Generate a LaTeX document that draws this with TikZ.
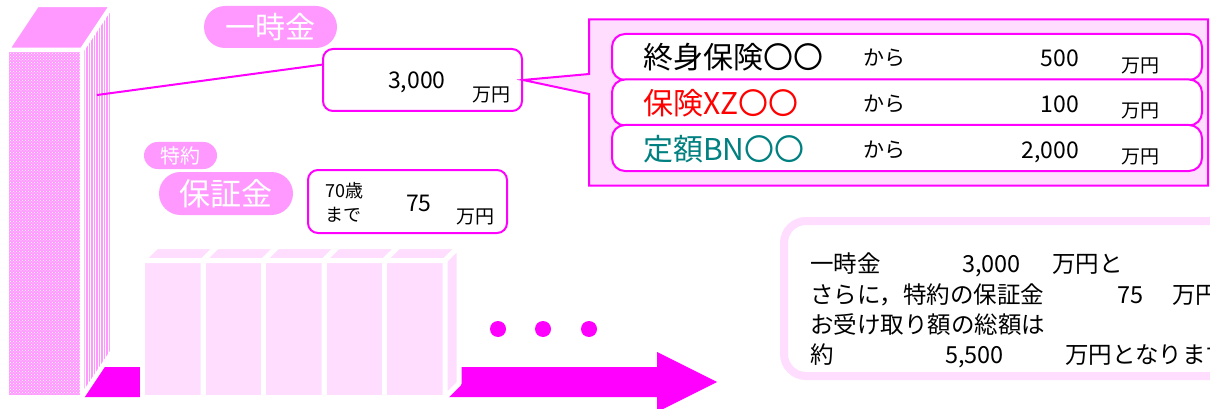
\documentclass[tikz,border=0pt]{standalone}
\usepackage{fontspec}
\setmainfont{Noto Sans CJK JP}
\usetikzlibrary{shapes.callouts,calc,patterns}
\definecolor{mag}{RGB}{255,0,255}
\definecolor{pinkA}{RGB}{255,153,255}
\definecolor{pinkL}{RGB}{255,221,255}
\definecolor{tealB}{RGB}{0,128,128}
\newcommand{\fsz}[1]{\fontsize{#1}{#1}\selectfont}
\begin{document}
\begin{tikzpicture}[x=1pt,y=-1pt,
  blockst/.style={fill=pinkL, draw=white, line width=5pt, line join=round},
  colface/.style={draw=white, line width=4.5pt, line join=round},
  pill/.style={fill=pinkA, text=white, inner sep=0pt},
  magbox/.style={draw=mag, line width=2pt, fill=white, rounded corners=10pt, inner sep=0pt},
  rowbox/.style={draw=mag, line width=2pt, fill=white, rounded corners=13pt, inner sep=0pt, minimum width=590pt, minimum height=46pt},
  txtst/.style={inner sep=0pt, text=black},
  nmst/.style={txtst, anchor=west, font=\fsz{30}},
  karast/.style={txtst, anchor=west, font=\fsz{21}},
  numst/.style={txtst, anchor=base east, font=\fsz{23}},
  yenst/.style={txtst, anchor=west, font=\fsz{19}},
  sumst/.style={txtst, anchor=base west, font=\fsz{23.5}}]
\useasboundingbox (0,0) rectangle (1210,409);
\clip (0,0) rectangle (1210,409);
\fill[white] (0,0) rectangle (1210,409);

% arrow band
\fill[mag] (80,367) -- (657,367) -- (657,352) -- (717,382) -- (657,412) -- (657,397) -- (80,397) -- cycle;

% small blocks
\foreach \i in {0,...,4}{
  \pgfmathsetmacro\L{142.5+60.5*\i}
  \pgfmathsetmacro\R{\L+60.5}
  \path[blockst] (\L,260.5) rectangle (\R,397.5);
  \path[blockst] (\L,260.5) -- (\L+14,246.5) -- (\R+14,246.5) -- (\R,260.5) -- cycle;
  \path[blockst] (\R,260.5) -- (\R+14,246.5) -- (\R+14,383.5) -- (\R,397.5) -- cycle;
}

% tall column
\fill[pinkA] (7,50) rectangle (82,397);
\fill[pattern=crosshatch dots, pattern color=white] (7,50) rectangle (82,397);
\path[colface] (7,50) rectangle (82,397);
\path[colface, fill=pinkA] (7,50) -- (37,5) -- (112,5) -- (82,50) -- cycle;
\fill[pinkA] (82,50) -- (112,5) -- (112,352) -- (82,397) -- cycle;
\begin{scope}
  \clip (82,50) -- (112,5) -- (112,352) -- (82,397) -- cycle;
  \foreach \x in {83,85.5,...,113}{\draw[white, line width=1pt] (\x,0) -- (\x,409);}
\end{scope}
\path[colface] (82,50) -- (112,5) -- (112,352) -- (82,397) -- cycle;
\coordinate (colpt) at (97,95);

% labels
\node[pill, rounded corners=21pt, minimum width=133pt, minimum height=42pt, font=\fsz{30}] (ichiji) at (270.5,27) {一時金};
\node[pill, rounded corners=13.5pt, minimum width=73pt, minimum height=27pt, font=\fsz{20}] (tokuyaku) at (180.5,155.5) {特約};
\node[pill, rounded corners=21.5pt, minimum width=134pt, minimum height=43pt, font=\fsz{31}] (hosho) at (226,193.5) {保証金};

% 3,000 box
\node[magbox, minimum width=199pt, minimum height=62pt] (b3000) at (422.5,80) {};
\node[txtst, anchor=base west, font=\fsz{23}] (t3000) at (388,89) {3,000};
\node[yenst] (y3000) at (472,95) {万円};
\draw[mag, line width=2pt] (colpt) -- ($(b3000.north west)!0.26!(b3000.south west)$);

% 75 box
\node[magbox, minimum width=199pt, minimum height=63pt] (b75) at (407.5,201.5) {};
\node[txtst, anchor=west, font=\fsz{18}] (t70) at (325,191) {70歳};
\node[txtst, anchor=west, font=\fsz{18}] (tmade) at (325,214.5) {まで};
\node[txtst, anchor=base west, font=\fsz{23}] (t75) at (406,211) {75};
\node[yenst] (y75) at (456,216.5) {万円};

% callout with rows
\node[rectangle callout, draw=mag, line width=2pt, fill=pinkL, inner sep=0pt,
  minimum width=619pt, minimum height=166pt,
  callout absolute pointer={(b3000.east)}, callout pointer width=20pt] (call) at (898.5,102.5) {};
\node[rowbox] (r1) at (907,57) {};
\node[rowbox] (r2) at (907,102.5) {};
\node[rowbox] (r3) at (907,148) {};

\node[nmst] (n1) at (643,57.5) {終身保険〇〇};
\node[nmst, text=red] (n2) at (643,103) {保険XZ〇〇};
\node[nmst, text=tealB] (n3) at (643,149) {定額BN〇〇};
\node[karast] (k1) at (863,57.5) {から};
\node[karast] (k2) at (863,104) {から};
\node[karast] (k3) at (863,150) {から};
\node[numst] (v1) at (1079,67) {500};
\node[numst] (v2) at (1079,113) {100};
\node[numst] (v3) at (1079,158) {2,000};
\node[yenst] (u1) at (1121,65.5) {万円};
\node[yenst] (u2) at (1121,111) {万円};
\node[yenst] (u3) at (1121,157) {万円};

% dots
\fill[mag] (498,329) circle (8pt);
\fill[mag] (543,329) circle (8pt);
\fill[mag] (589,329) circle (8pt);

% summary box
\node[draw=pinkL, line width=8pt, fill=white, rounded corners=22pt, inner sep=0pt,
  minimum width=476pt, minimum height=155pt] (sum) at (1022,298.5) {};
\node[sumst] (s1a) at (810,272) {一時金};
\node[sumst] (s1b) at (962,272) {3,000};
\node[sumst] (s1c) at (1052,272) {万円と};
\node[sumst] (s2a) at (810,303) {さらに，特約の保証金};
\node[sumst] (s2b) at (1117,303) {75};
\node[sumst] (s2c) at (1172,303) {万円};
\node[sumst] (s3a) at (810,333) {お受け取り額の総額は};
\node[sumst] (s4a) at (810,363) {約};
\node[sumst] (s4b) at (945,363) {5,500};
\node[sumst] (s4c) at (1065,363) {万円となります};
\end{tikzpicture}
\end{document}
